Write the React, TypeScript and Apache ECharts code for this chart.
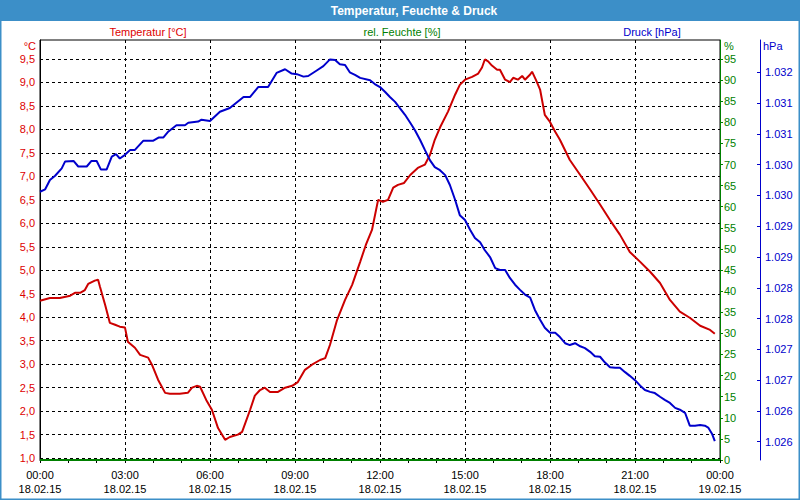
import React, { useEffect, useRef } from "react";
import * as echarts from "echarts";

// time in minutes since 18.02.15 00:00
const tempTimes = [0,21,42,64,74,85,95,102,116,123,127,138,148,159,169,180,186,201,212,229,237,250,265,275,296,313,322,332,339,352,364,377,392,402,419,428,445,455,466,476,487,504,519,534,546,561,576,593,604,614,629,646,661,678,690,703,716,726,737,748,758,771,784,800,815,826,836,847,864,879,889,900,915,928,936,942,949,957,968,974,985,995,1002,1012,1021,1027,1038,1042,1050,1059,1069,1080,1091,1101,1122,1144,1165,1186,1207,1228,1249,1271,1292,1313,1334,1355,1376,1398,1419,1429];
const tempValues = [4.35,4.41,4.41,4.46,4.52,4.52,4.58,4.71,4.78,4.80,4.65,4.26,3.88,3.84,3.80,3.78,3.48,3.35,3.20,3.14,2.99,2.67,2.39,2.37,2.37,2.39,2.50,2.54,2.52,2.24,2.03,1.64,1.39,1.45,1.50,1.56,2.03,2.33,2.45,2.50,2.41,2.41,2.50,2.54,2.62,2.88,2.99,3.09,3.13,3.41,3.94,4.37,4.69,5.18,5.54,5.86,6.50,6.46,6.50,6.76,6.82,6.86,7.03,7.18,7.25,7.46,7.78,8.04,8.38,8.74,8.95,9.06,9.12,9.19,9.32,9.49,9.45,9.36,9.27,9.27,9.06,9.01,9.10,9.06,9.14,9.06,9.17,9.23,9.06,8.85,8.31,8.16,7.95,7.78,7.35,7.03,6.72,6.40,6.07,5.76,5.39,5.18,4.97,4.73,4.37,4.12,3.99,3.82,3.73,3.65];

const pressTimes = [0,11,21,32,46,53,71,81,99,109,120,129,141,152,161,169,180,191,201,219,240,251,261,272,289,307,314,335,342,360,381,402,431,445,462,483,501,519,533,544,558,568,586,600,614,625,635,646,656,667,678,699,709,720,731,741,752,762,773,784,794,805,815,826,836,847,858,868,879,889,900,911,921,932,942,953,964,974,985,995,1006,1016,1027,1038,1048,1059,1069,1080,1091,1101,1112,1122,1133,1144,1154,1165,1175,1186,1196,1207,1218,1228,1239,1249,1260,1271,1281,1292,1302,1313,1323,1334,1345,1355,1366,1376,1387,1398,1408,1415,1423,1429];
const pressValues = [1030.06,1030.10,1030.25,1030.32,1030.44,1030.55,1030.56,1030.47,1030.47,1030.56,1030.56,1030.42,1030.42,1030.63,1030.67,1030.60,1030.66,1030.74,1030.74,1030.89,1030.89,1030.94,1030.94,1031.04,1031.14,1031.14,1031.18,1031.20,1031.23,1031.21,1031.36,1031.42,1031.60,1031.60,1031.76,1031.76,1031.99,1032.05,1031.98,1031.97,1031.93,1031.94,1032.03,1032.10,1032.21,1032.20,1032.13,1032.12,1032.00,1031.96,1031.91,1031.87,1031.81,1031.76,1031.68,1031.60,1031.52,1031.42,1031.31,1031.18,1031.06,1030.90,1030.74,1030.57,1030.46,1030.41,1030.33,1030.17,1029.93,1029.68,1029.60,1029.44,1029.31,1029.24,1029.11,1029.00,1028.82,1028.79,1028.79,1028.66,1028.55,1028.47,1028.39,1028.34,1028.14,1027.98,1027.85,1027.77,1027.77,1027.70,1027.60,1027.57,1027.60,1027.55,1027.52,1027.46,1027.39,1027.38,1027.29,1027.21,1027.20,1027.20,1027.13,1027.07,1027.00,1026.91,1026.84,1026.81,1026.79,1026.73,1026.68,1026.63,1026.55,1026.52,1026.47,1026.26,1026.26,1026.27,1026.26,1026.23,1026.13,1026.01];

const humTimes = [0, 1440];
const humValues = [0, 0];

const tempTicks = [1.0,1.5,2.0,2.5,3.0,3.5,4.0,4.5,5.0,5.5,6.0,6.5,7.0,7.5,8.0,8.5,9.0,9.5];
const humTicks = [0,5,10,15,20,25,30,35,40,45,50,55,60,65,70,75,80,85,90,95];
const pressTicks = [1026,1026.5,1027,1027.5,1028,1028.5,1029,1029.5,1030,1030.5,1031,1031.5,1032];
const xTicks = [0,180,360,540,720,900,1080,1260,1440];

const titleText = "Temperatur, Feuchte & Druck";
const legendTemp = "Temperatur [°C]";
const legendHum = "rel. Feuchte [%]";
const legendPress = "Druck [hPa]";

const RED = "#cc0000";
const RED_TXT = "#dd0000";
const GREEN = "#008000";
const BLUE = "#0000cc";
const FRAME = "#3c8fc8";
const FONT = "Liberation Sans";

function pad2(n: number) { return n < 10 ? "0" + n : "" + n; }

export default function App() {
  const ref = useRef<HTMLDivElement>(null);
  useEffect(() => {
    if (!ref.current) return;
    const chart = echarts.init(ref.current, undefined, { renderer: "svg" });
    const option: any = {
      animation: false,
      backgroundColor: "#ffffff",
      textStyle: { fontFamily: FONT },
      graphic: [
        { type: "rect", silent: true, z: 0, shape: { x: 0, y: 0, width: 800, height: 21 }, style: { fill: FRAME } },
        { type: "rect", silent: true, z: 0, shape: { x: 0.75, y: 0.75, width: 798.5, height: 498.5 }, style: { fill: "none", stroke: FRAME, lineWidth: 1.5 } },
        { type: "text", silent: true, z: 10, x: 414, y: 10.5, style: { text: titleText, fill: "#ffffff", font: `bold 12px "${FONT}"`, align: "center", verticalAlign: "middle" } },
        { type: "text", silent: true, z: 10, x: 148, y: 32, style: { text: legendTemp, fill: RED_TXT, font: `11px "${FONT}"`, align: "center", verticalAlign: "middle" } },
        { type: "text", silent: true, z: 10, x: 402, y: 32, style: { text: legendHum, fill: GREEN, font: `11px "${FONT}"`, align: "center", verticalAlign: "middle" } },
        { type: "text", silent: true, z: 10, x: 652, y: 32, style: { text: legendPress, fill: BLUE, font: `11px "${FONT}"`, align: "center", verticalAlign: "middle" } },
        { type: "text", silent: true, z: 10, x: 36, y: 46, style: { text: "°C", fill: RED_TXT, font: `11px "${FONT}"`, align: "right", verticalAlign: "middle" } },
        { type: "text", silent: true, z: 10, x: 724, y: 46, style: { text: "%", fill: GREEN, font: `11px "${FONT}"`, align: "left", verticalAlign: "middle" } },
        { type: "text", silent: true, z: 10, x: 763, y: 46, style: { text: "hPa", fill: BLUE, font: `11px "${FONT}"`, align: "left", verticalAlign: "middle" } }
      ],
      grid: { left: 40, top: 40, width: 680, height: 420, show: true, borderColor: "#000", borderWidth: 1, backgroundColor: "transparent" },
      xAxis: {
        type: "value",
        min: 0,
        max: 1440,
        interval: 180,
        axisLine: { show: true, lineStyle: { color: "#000", width: 1 } },
        axisTick: { show: true, length: 3, lineStyle: { color: "#000" } },
        minorTick: { show: true, splitNumber: 3, length: 3, lineStyle: { color: "#000" } },
        splitLine: { show: true, lineStyle: { color: "#000", type: [3, 3], width: 1 } },
        axisLabel: {
          color: "#000",
          fontSize: 11,
          fontFamily: FONT,
          lineHeight: 14,
          margin: 8,
          showMinLabel: true,
          showMaxLabel: true,
          customValues: xTicks,
          formatter: (v: number) => {
            const day = v >= 1440 ? 19 : 18;
            const m = v % 1440;
            const h = Math.floor(m / 60);
            return pad2(h) + ":" + pad2(m % 60) + "\n" + day + ".02.15";
          }
        }
      },
      yAxis: [
        {
          type: "value",
          position: "left",
          min: 0.96,
          max: 9.905,
          axisLine: { show: true, lineStyle: { color: "#000" } },
          axisTick: { show: false, customValues: tempTicks },
          splitLine: { show: true, lineStyle: { color: "#000", type: [3, 3], width: 1 } },
          axisLabel: {
            color: RED_TXT,
            fontSize: 11,
            fontFamily: FONT,
            margin: 5,
            customValues: tempTicks,
            formatter: (v: number) => v.toFixed(1).replace(".", ",")
          }
        },
        {
          type: "value",
          position: "right",
          min: 0,
          max: 99.5,
          axisLine: { show: true, onZero: false, lineStyle: { color: GREEN } },
          axisTick: { show: true, inside: false, length: 3, lineStyle: { color: GREEN }, customValues: humTicks },
          splitLine: { show: false },
          axisLabel: {
            color: GREEN,
            fontSize: 11,
            fontFamily: FONT,
            margin: 4,
            customValues: humTicks,
            formatter: (v: number) => String(Math.round(v))
          }
        },
        {
          type: "value",
          position: "right",
          offset: 40,
          min: 1025.703,
          max: 1032.525,
          axisLine: { show: true, onZero: false, lineStyle: { color: BLUE } },
          axisTick: { show: true, inside: true, length: 3, lineStyle: { color: BLUE }, customValues: pressTicks },
          splitLine: { show: false },
          axisLabel: {
            color: BLUE,
            fontSize: 11,
            fontFamily: FONT,
            margin: 5,
            customValues: pressTicks,
            formatter: (v: number) => {
              const n = Math.floor(v + 1e-6) - 1000;
              return "1." + String(n).padStart(3, "0");
            }
          }
        }
      ],
      series: [
        {
          name: legendHum,
          type: "line",
          yAxisIndex: 1,
          showSymbol: false,
          symbol: "none",
          clip: false,
          lineStyle: { color: GREEN, width: 2 },
          data: humTimes.map((t, i) => [t, humValues[i]])
        },
        {
          name: legendTemp,
          type: "line",
          yAxisIndex: 0,
          showSymbol: false,
          symbol: "none",
          lineStyle: { color: RED, width: 2 },
          data: tempTimes.map((t, i) => [t, tempValues[i]])
        },
        {
          name: legendPress,
          type: "line",
          yAxisIndex: 2,
          showSymbol: false,
          symbol: "none",
          lineStyle: { color: BLUE, width: 2 },
          data: pressTimes.map((t, i) => [t, pressValues[i]])
        }
      ]
    };
    chart.setOption(option);
    return () => chart.dispose();
  }, []);
  return <div ref={ref} style={{ position: "fixed", left: 0, top: 0, width: 800, height: 500 }} />;
}
